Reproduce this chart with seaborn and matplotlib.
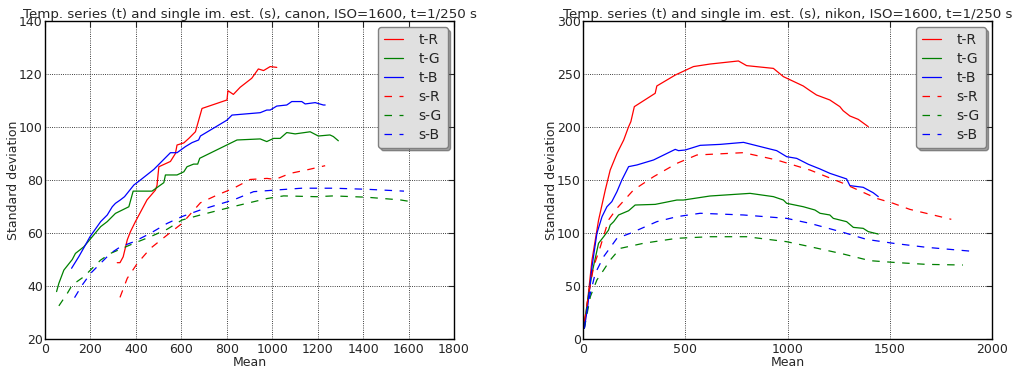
import numpy as np
import pandas as pd
import matplotlib
matplotlib.use("Agg")
import matplotlib.pyplot as plt
import seaborn as sns

# ---------------- data: canon ----------------
canon_tR_x = [318, 330, 344, 362, 376, 398, 449, 486, 493, 501, 552, 574, 581, 611, 633, 662, 691, 801, 805, 829, 859, 910, 939, 962, 991, 1020]
canon_tR_y = [48.8, 48.8, 51, 57.4, 60.5, 64.3, 72.5, 76.2, 78, 85, 87, 90, 93.2, 94, 95.7, 98.2, 107, 110.2, 113.7, 112.3, 115, 118.4, 121.9, 121.3, 122.8, 122.5]
canon_tG_x = [51, 61, 83, 120, 134, 171, 208, 245, 274, 310, 369, 388, 471, 523, 530, 581, 611, 625, 654, 672, 681, 845, 947, 976, 1006, 1035, 1064, 1101, 1167, 1203, 1254, 1269, 1291]
canon_tG_y = [37.9, 41, 46, 50, 52.3, 54.8, 58.6, 62.4, 64.3, 67.4, 69.9, 75.8, 75.8, 79, 81.9, 81.9, 83.1, 85, 86, 86, 88.2, 95.1, 95.5, 94.5, 95.7, 95.7, 97.9, 97.4, 98.2, 96.6, 97, 96.4, 94.8]
canon_tB_x = [117, 149, 178, 198, 245, 274, 296, 310, 332, 350, 391, 420, 479, 552, 581, 618, 647, 676, 684, 801, 823, 947, 976, 991, 1020, 1064, 1086, 1130, 1145, 1189, 1225, 1233]
canon_tB_y = [46.7, 51.1, 55.5, 58.6, 64.3, 66.8, 69.9, 71.2, 72.5, 73.7, 78.1, 80, 84, 90.3, 90.3, 92.6, 94.1, 95.1, 96.6, 102.6, 104.5, 105.4, 106.4, 106.4, 107.9, 108.3, 109.6, 109.6, 108.7, 109.2, 108.3, 108.3]
canon_sR_x = [330, 362, 406, 464, 537, 603, 684, 757, 830, 903, 977, 1013, 1079, 1152, 1233]
canon_sR_y = [35.7, 42.9, 48.5, 54.2, 59.2, 63.6, 71.4, 74.3, 76.9, 80.2, 80.6, 80.2, 82.5, 83.8, 85.4]
canon_sG_x = [61, 98, 120, 171, 208, 245, 288, 340, 391, 464, 537, 603, 684, 830, 977, 1050, 1196, 1269, 1416, 1562, 1628]
canon_sG_y = [32.5, 37.2, 40.4, 43.5, 46.7, 49.8, 52.3, 54.2, 56.1, 58.6, 61.4, 64.9, 66.8, 70, 73, 74, 73.7, 74, 73.5, 72.5, 71.6]
canon_sB_x = [130, 164, 201, 245, 288, 332, 391, 464, 537, 603, 684, 830, 918, 1013, 1130, 1269, 1416, 1580]
canon_sB_y = [35.6, 40.4, 44.8, 48.6, 52.3, 54.8, 56.7, 59.9, 63.6, 66.2, 68.7, 72.5, 75.6, 76.2, 76.9, 76.9, 76.5, 75.8]

# ---------------- data: nikon ----------------
nikon_tR_x = [6.5, 23, 44, 76, 109, 133, 166, 199, 223, 234, 251, 353, 361, 451, 540, 621, 760, 800, 931, 980, 1077, 1110, 1142, 1207, 1256, 1272, 1305, 1346, 1395]
nikon_tR_y = [13.2, 36.8, 74.5, 112, 140.6, 159.4, 175, 187.7, 200.3, 205, 219.2, 231.8, 238.7, 249, 257, 259.4, 262.3, 257.9, 255.3, 247.5, 238.7, 234.3, 230.2, 225.5, 219.2, 215.4, 210.4, 207.2, 200.3]
nikon_tG_x = [6.5, 23, 44, 76, 101, 125, 133, 150, 174, 223, 255, 353, 459, 491, 621, 817, 931, 980, 996, 1077, 1134, 1159, 1207, 1224, 1289, 1322, 1370, 1395, 1444]
nikon_tG_y = [13.2, 36.8, 62, 90.3, 96.5, 102.8, 107.5, 110.7, 117, 121, 126.4, 127, 131.1, 131.1, 134.9, 137.4, 134.3, 131.1, 128, 124.8, 121.7, 118.6, 117, 113.8, 110.7, 105.3, 104.4, 101.3, 99]
nikon_tB_x = [6.5, 23, 44, 68, 93, 117, 141, 166, 190, 223, 264, 345, 451, 467, 500, 573, 671, 785, 915, 947, 996, 1045, 1102, 1159, 1207, 1289, 1305, 1370, 1419, 1444]
nikon_tB_y = [10, 30.5, 68.2, 99.7, 115.4, 124.8, 129.6, 139, 150, 162.6, 164.2, 168.9, 178.9, 177.7, 178.3, 182.7, 183.6, 185.5, 179.2, 177.7, 172, 170.4, 164.8, 160.4, 156.3, 151, 144.7, 143.1, 138, 134.3]
nikon_sR_x = [6.5, 28, 52, 85, 125, 166, 247, 345, 459, 557, 785, 947, 1110, 1272, 1435, 1517, 1598, 1801]
nikon_sR_y = [16.4, 43, 68.2, 87.1, 112.3, 123.3, 140.6, 153.1, 165.7, 173.6, 175.8, 168.9, 159.4, 146.9, 132.7, 128, 122.3, 112.9]
nikon_sG_x = [6.5, 36, 68, 101, 133, 182, 296, 459, 621, 800, 996, 1110, 1272, 1403, 1517, 1679, 1858]
nikon_sG_y = [10, 40, 55.7, 65.1, 74.5, 85.5, 90.3, 95, 96.5, 96.5, 91.8, 87.1, 80.2, 73.9, 72.3, 70.4, 69.8]
nikon_sB_x = [6.5, 28, 60, 101, 166, 231, 361, 459, 573, 785, 996, 1110, 1272, 1386, 1517, 1679, 1923]
nikon_sB_y = [10, 36.8, 62, 77.7, 95, 99.7, 110.7, 115.4, 118.6, 117, 113.8, 109.1, 100.6, 94, 90.3, 86.5, 82.4]

labels = ["t-R", "t-G", "t-B", "s-R", "s-G", "s-B"]
colors = ["#ff0000", "#008000", "#0000ff", "#ff0000", "#008000", "#0000ff"]
styles = ["-", "-", "-", "--", "--", "--"]

sns.set_style("white")
plt.rcParams["font.family"] = ["DejaVu Sans"]
plt.rcParams.update({
    "xtick.direction": "in", "ytick.direction": "in",
    "xtick.top": True, "ytick.right": True,
    "xtick.major.size": 4, "ytick.major.size": 4,
    "xtick.major.width": 0.8, "ytick.major.width": 0.8,
    "xtick.major.pad": 3, "ytick.major.pad": 1.5,
    "xtick.labelsize": 9, "ytick.labelsize": 9,
    "lines.dashed_pattern": [6, 6],
})

fig = plt.figure(figsize=(10.17, 3.68), dpi=100)
ax1 = fig.add_axes([45 / 1017, 29 / 368, 409 / 1017, 318 / 368])
ax2 = fig.add_axes([583 / 1017, 29 / 368, 409 / 1017, 318 / 368])

panels = [
    (ax1, [(canon_tR_x, canon_tR_y), (canon_tG_x, canon_tG_y), (canon_tB_x, canon_tB_y),
           (canon_sR_x, canon_sR_y), (canon_sG_x, canon_sG_y), (canon_sB_x, canon_sB_y)],
     "canon", (0, 1800), np.arange(0, 1801, 200), (20, 140), np.arange(20, 141, 20)),
    (ax2, [(nikon_tR_x, nikon_tR_y), (nikon_tG_x, nikon_tG_y), (nikon_tB_x, nikon_tB_y),
           (nikon_sR_x, nikon_sR_y), (nikon_sG_x, nikon_sG_y), (nikon_sB_x, nikon_sB_y)],
     "nikon", (0, 2000), np.arange(0, 2001, 500), (0, 300), np.arange(0, 301, 50)),
]

for ax, series, cam, xl, xt, yl, yt in panels:
    for (xs, ys), lab, c, ls in zip(series, labels, colors, styles):
        df = pd.DataFrame({"Mean": xs, "Std": ys})
        sns.lineplot(data=df, x="Mean", y="Std", ax=ax, color=c, linestyle=ls,
                     linewidth=0.9, label=lab, sort=False, estimator=None)
    ax.set_xlim(*xl)
    ax.set_ylim(*yl)
    ax.set_xticks(xt)
    ax.set_yticks(yt)
    ax.grid(True, color="black", linestyle=":", linewidth=0.6)
    for s in ax.spines.values():
        s.set_color("black")
        s.set_linewidth(1.0)
    ax.set_xlabel("Mean", fontsize=9, labelpad=0)
    ax.set_ylabel("Standard deviation", fontsize=9, labelpad=-1)
    ax.set_title(f"Temp. series (t) and single im. est. (s), {cam}, ISO=1600, t=1/250 s",
                 fontsize=9.6, pad=2)
    leg = ax.legend(loc="upper right", fontsize=10, frameon=True, fancybox=True,
                    shadow=True, handlelength=1.4, handletextpad=1.1,
                    labelspacing=0.36, borderaxespad=0.45, borderpad=0.42)
    leg.get_frame().set_facecolor("#e0e0e0")
    leg.get_frame().set_edgecolor("#808080")
    leg.get_frame().set_alpha(1.0)

fig.savefig("out.png", dpi=100, facecolor="white")
